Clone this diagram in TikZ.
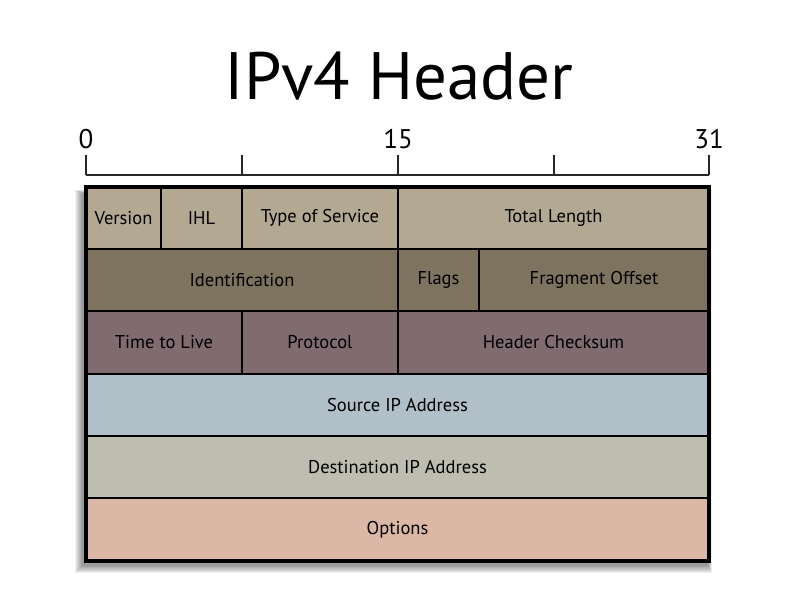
\documentclass[tikz,border=0pt]{standalone}
\usepackage{fontspec}
\setmainfont{PT Sans}
\usetikzlibrary{positioning}
\definecolor{rowone}{RGB}{179,169,147}
\definecolor{rowtwo}{RGB}{126,115,94}
\definecolor{rowthree}{RGB}{127,107,112}
\definecolor{rowfour}{RGB}{177,191,201}
\definecolor{rowfive}{RGB}{189,189,176}
\definecolor{rowsix}{RGB}{219,184,166}
\begin{document}
\begin{tikzpicture}[x=1pt, y=-1pt,
    field/.style={draw, line width=2pt, inner sep=0pt, outer sep=0pt, anchor=north west,
                  minimum height=62pt, font=\fontsize{18.5}{20}\selectfont, text=black},
    bitnum/.style={above, inner sep=1pt, font=\fontsize{27}{29}\selectfont},
]
\useasboundingbox (0,0) rectangle (800,600);
\fill[white] (0,0) rectangle (800,600);

% Title
\node[font=\fontsize{67}{70}\selectfont] (title) at (399,76) {IPv4 Header};

% Bit ruler
\coordinate (t0) at (86,175);
\coordinate (t8) at (242,175);
\coordinate (t15) at (398,175);
\coordinate (t24) at (554,175);
\coordinate (t31) at (709,175);
\draw[line width=2pt, black!85] (t0) -- (t31);
\foreach \t in {t0,t8,t15,t24,t31} {
    \draw[line width=2pt, black!85] (\t) -- ++(0,-20);
}
\node[bitnum] (n0) at (86,150) {0};
\node[bitnum] (n15) at (398,150) {15};
\node[bitnum] (n31) at (709,150) {31};

% Shadow under the header box
\foreach \i in {0,...,7} {
    \fill[black, opacity=0.06] (82-\i,193-0.5*\i) rectangle (708+0.5*\i,566+\i);
}

% Row 1
\node[field, fill=rowone, minimum width=75pt] (ver) at (86,187) {Version};
\node[field, fill=rowone, minimum width=81pt] (ihl) at (161,187) {IHL};
\node[field, fill=rowone, minimum width=156pt] (tos) at (242,187) {Type of Service};
\node[field, fill=rowone, minimum width=311pt] (tlen) at (398,187) {Total Length};
% Row 2
\node[field, fill=rowtwo, minimum width=312pt] (ident) at (86,249) {Identification};
\node[field, fill=rowtwo, minimum width=81pt] (flags) at (398,249) {Flags};
\node[field, fill=rowtwo, minimum width=230pt] (frag) at (479,249) {Fragment Offset};
% Row 3
\node[field, fill=rowthree, minimum width=156pt, minimum height=63pt] (ttl) at (86,311) {Time to Live};
\node[field, fill=rowthree, minimum width=156pt, minimum height=63pt] (proto) at (242,311) {Protocol};
\node[field, fill=rowthree, minimum width=311pt, minimum height=63pt] (csum) at (398,311) {Header Checksum};
% Rows 4 to 6
\node[field, fill=rowfour, minimum width=623pt] (src) at (86,374) {Source IP Address};
\node[field, fill=rowfive, minimum width=623pt] (dst) at (86,436) {Destination IP Address};
\node[field, fill=rowsix, minimum width=623pt, minimum height=63pt] (opts) at (86,498) {Options};

% Outer frame
\draw[line width=4.5pt] (ver.north west) rectangle (opts.south east);
\end{tikzpicture}
\end{document}
